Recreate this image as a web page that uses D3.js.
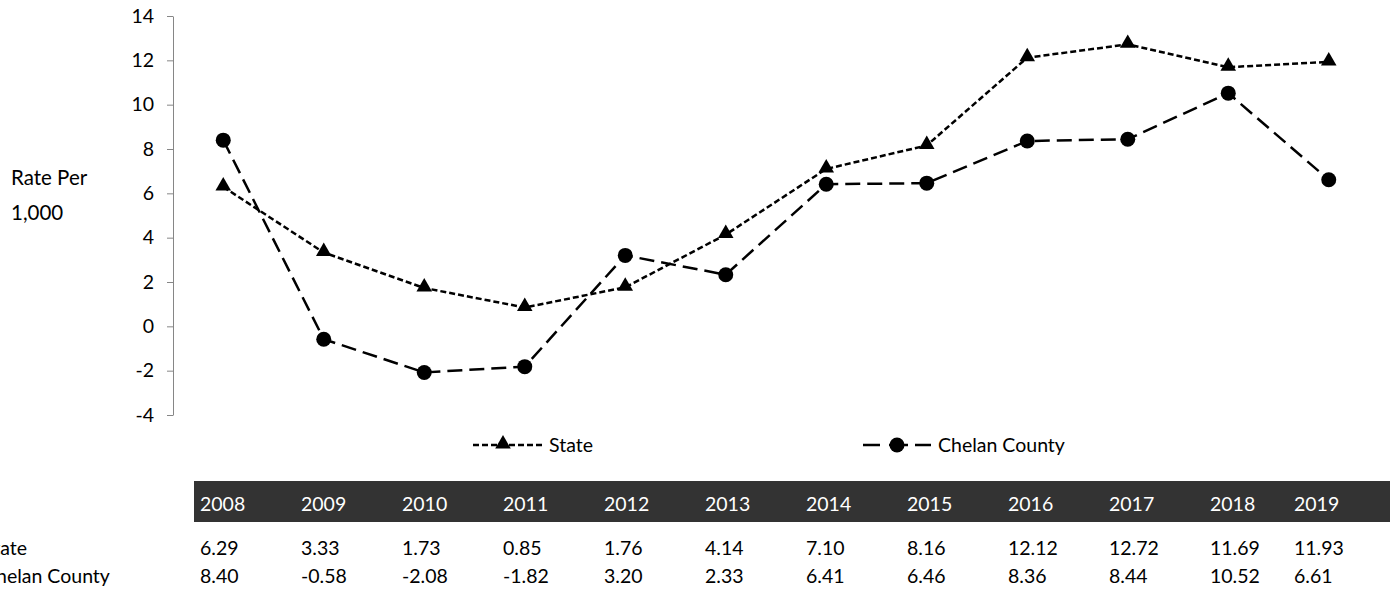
<!DOCTYPE html>
<html>
<head>
<meta charset="utf-8">
<script src="https://cdn.jsdelivr.net/npm/d3@7"></script>
<style>
  body { margin: 0; background: #fff; }
  svg { font-family: Lato, "Open Sans", sans-serif; font-size: 19.5px; }
</style>
</head>
<body>
<svg id="chart" width="1396" height="590"></svg>
<script>
// data
var years = ['2008', '2009', '2010', '2011', '2012', '2013', '2014', '2015', '2016', '2017', '2018', '2019'];
var stateRate = [6.29, 3.33, 1.73, 0.85, 1.76, 4.14, 7.10, 8.16, 12.12, 12.72, 11.69, 11.93];
var chelanRate = [8.40, -0.58, -2.08, -1.82, 3.20, 2.33, 6.41, 6.46, 8.36, 8.44, 10.52, 6.61];
var yTicks = [-4, -2, 0, 2, 4, 6, 8, 10, 12, 14];
var seriesNames = ['State', 'Chelan County'];

var svg = d3.select('#chart');

var x = d3.scaleBand().domain(years).range([173, 1379]);
var y = d3.scaleLinear().domain([-4, 14]).range([415, 16]);

// y axis
var yAxis = svg.append('g')
    .attr('transform', 'translate(173,0)')
    .call(d3.axisLeft(y).tickValues(yTicks).tickFormat(function(d) { return String(d); })
        .tickSize(6).tickSizeOuter(0).tickPadding(13));
yAxis.selectAll('line, path').attr('stroke', '#868686');
yAxis.selectAll('text').attr('font-size', 19.5).attr('fill', '#000').attr('font-family', 'Lato');

svg.append('text').attr('x', 11).attr('y', 185).attr('font-size', 20.5).text('Rate Per');
svg.append('text').attr('x', 11).attr('y', 220).attr('font-size', 20.5).text('1,000');

var cx = function(d, i) { return x(years[i]) + x.bandwidth() / 2; };
var line = d3.line().x(cx).y(function(d) { return y(d); });

var triangle = d3.symbol().type(d3.symbolTriangle).size(105);

// State series
svg.append('path').datum(stateRate)
    .attr('d', line)
    .attr('fill', 'none').attr('stroke', '#000').attr('stroke-width', 2.5)
    .attr('stroke-dasharray', '6,3');
svg.selectAll('.tri').data(stateRate).enter().append('path')
    .attr('class', 'tri')
    .attr('d', triangle)
    .attr('transform', function(d, i) { return 'translate(' + cx(d, i) + ',' + (y(d) - 1) + ')'; });

// Chelan County series
svg.append('path').datum(chelanRate)
    .attr('d', line)
    .attr('fill', 'none').attr('stroke', '#000').attr('stroke-width', 2.5)
    .attr('stroke-dasharray', '15,7');
svg.selectAll('.dot').data(chelanRate).enter().append('circle')
    .attr('class', 'dot')
    .attr('cx', cx).attr('cy', function(d) { return y(d); })
    .attr('r', 7.5);

// legend
var lg = svg.append('g').attr('transform', 'translate(0,445)');
lg.append('line').attr('x1', 473).attr('x2', 542).attr('y1', 0).attr('y2', 0)
    .attr('stroke', '#000').attr('stroke-width', 2.5).attr('stroke-dasharray', '6,3');
lg.append('path').attr('d', triangle).attr('transform', 'translate(503,-1)');
lg.append('text').attr('x', 549).attr('y', 7).text(seriesNames[0]);
lg.append('line').attr('x1', 863).attr('x2', 931).attr('y1', 0).attr('y2', 0)
    .attr('stroke', '#000').attr('stroke-width', 2.5).attr('stroke-dasharray', '17,9,6,7,6,7');
lg.append('circle').attr('cx', 897).attr('cy', 0).attr('r', 7.5);
lg.append('text').attr('x', 938).attr('y', 7).text(seriesNames[1]);

// data table under the chart
var colLeft = function(i) { return i === years.length - 1 ? 1294 : 200 + i * 101; };

svg.append('rect').attr('x', 194).attr('y', 481).attr('width', 1196).attr('height', 41)
    .attr('fill', '#333333');
svg.selectAll('.yr').data(years).enter().append('text')
    .attr('class', 'yr')
    .attr('x', function(d, i) { return colLeft(i); })
    .attr('y', 511).attr('fill', '#fff')
    .text(function(d) { return d; });

var rows = [stateRate, chelanRate];
rows.forEach(function(vals, r) {
    var ry = 555 + r * 28;
    svg.append('text').attr('x', -17).attr('y', ry).text(seriesNames[r]);
    svg.selectAll('.v' + r).data(vals).enter().append('text')
        .attr('class', 'v' + r)
        .attr('x', function(d, i) { return colLeft(i); })
        .attr('y', ry)
        .text(function(d) { return d.toFixed(2); });
});
</script>
</body>
</html>
